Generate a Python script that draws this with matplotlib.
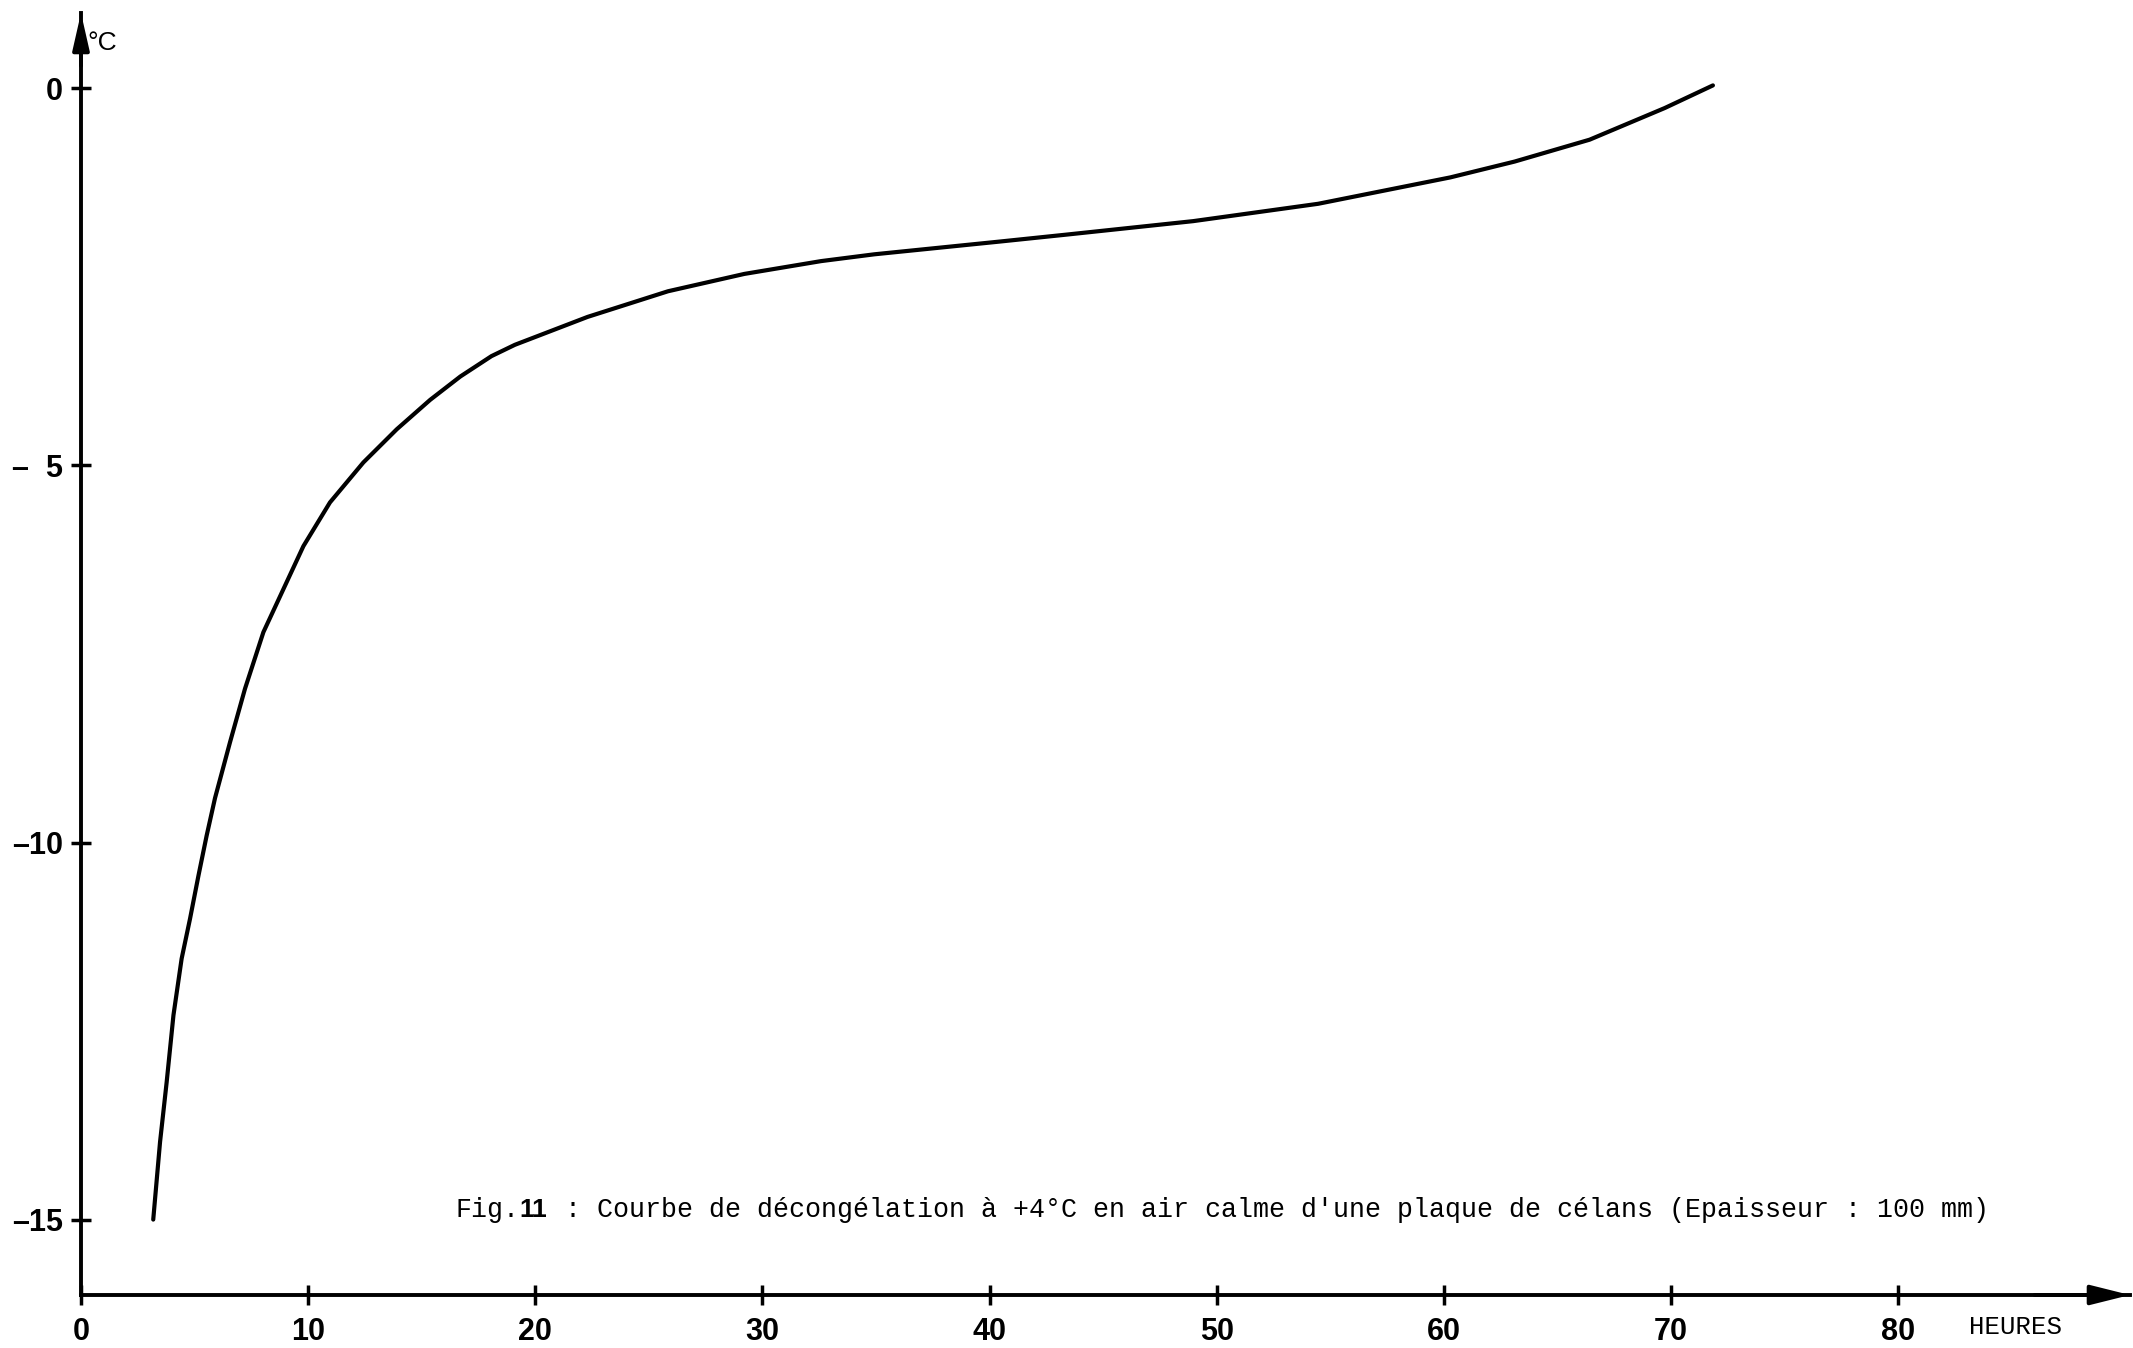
import numpy as np
from matplotlib import pyplot as plt

heures = [3.18, 3.48, 3.77, 4.07, 4.43, 4.80, 5.17, 5.53, 5.90, 6.56, 7.22, 8.03, 8.91,
          9.79, 10.96, 12.43, 13.90, 15.37, 16.7, 18.07, 19.10, 22.3, 25.84, 29.2, 32.58,
          34.92, 40.47, 43.34, 48.96, 54.46, 60.28, 63.11, 66.41, 69.72, 71.84]
temp = [-15.0, -13.97, -13.18, -12.29, -11.54, -11.01, -10.44, -9.91, -9.41, -8.67, -7.96,
        -7.21, -6.64, -6.07, -5.49, -4.96, -4.52, -4.13, -3.82, -3.55, -3.40, -3.03, -2.69,
        -2.46, -2.29, -2.20, -2.03, -1.94, -1.76, -1.53, -1.18, -0.97, -0.68, -0.26, 0.04]

xticks = [0, 10, 20, 30, 40, 50, 60, 70, 80]
yticks = [0, -5, -10, -15]
ylabels = ["0", "\u2013  5", "\u201310", "\u201315"]

fig = plt.figure(figsize=(21.33, 13.48), dpi=100)
ax = fig.add_axes([81/2133, 53/1348, 2049/2133, 1282/1348])
ax.set_xlim(0, 90.2)
ax.set_ylim(-16, 1.0)

ax.plot(heures, temp, color="black", lw=3.0, solid_capstyle="round", solid_joinstyle="round")

for s in ["top", "right"]:
    ax.spines[s].set_visible(False)
for s in ["left", "bottom"]:
    ax.spines[s].set_linewidth(2.8)

# fleches des axes
ax.annotate("", xy=(90.2, -16), xytext=(86, -16), annotation_clip=False,
            arrowprops=dict(arrowstyle="-|>,head_length=1.2,head_width=0.3", mutation_scale=20,
                            lw=2.8, color="black", shrinkA=0, shrinkB=0))
ax.annotate("", xy=(0, 1.0), xytext=(0, 0.3), annotation_clip=False,
            arrowprops=dict(arrowstyle="-|>,head_length=1.1,head_width=0.25", mutation_scale=20,
                            lw=2.8, color="black", shrinkA=0, shrinkB=0))

ax.set_xticks(xticks)
ax.set_xticklabels([str(t) for t in xticks])
ax.set_yticks(yticks)
ax.set_yticklabels(ylabels)
ax.tick_params(direction="inout", length=14, width=2.5, labelsize=22)
ax.tick_params(axis="x", pad=9)
ax.tick_params(axis="y", pad=6)
for lab in ax.get_xticklabels() + ax.get_yticklabels():
    lab.set_family("Liberation Sans")
    lab.set_fontweight("bold")

ax.text(0.3, 0.6, "\u00b0C", fontsize=19, family="Liberation Sans", va="center", ha="left")
ax.text(83.1, -16.42, "HEURES", fontsize=18.5, family="Liberation Mono",
        va="center", ha="left", clip_on=False)

ax.text(16.5, -14.87, "Fig.", fontsize=19.2, family="Liberation Mono", va="center", ha="left")
ax.text(19.3, -14.87, "11", fontsize=19, family="Liberation Sans",
        fontweight="bold", va="center", ha="left")
ax.text(21.3, -14.87, ": Courbe de d\u00e9cong\u00e9lation \u00e0 +4\u00b0C en air calme d'une plaque de c\u00e9lans (Epaisseur : 100 mm)",
        fontsize=19.2, family="Liberation Mono", va="center", ha="left")

plt.savefig("out.png", dpi=100)
